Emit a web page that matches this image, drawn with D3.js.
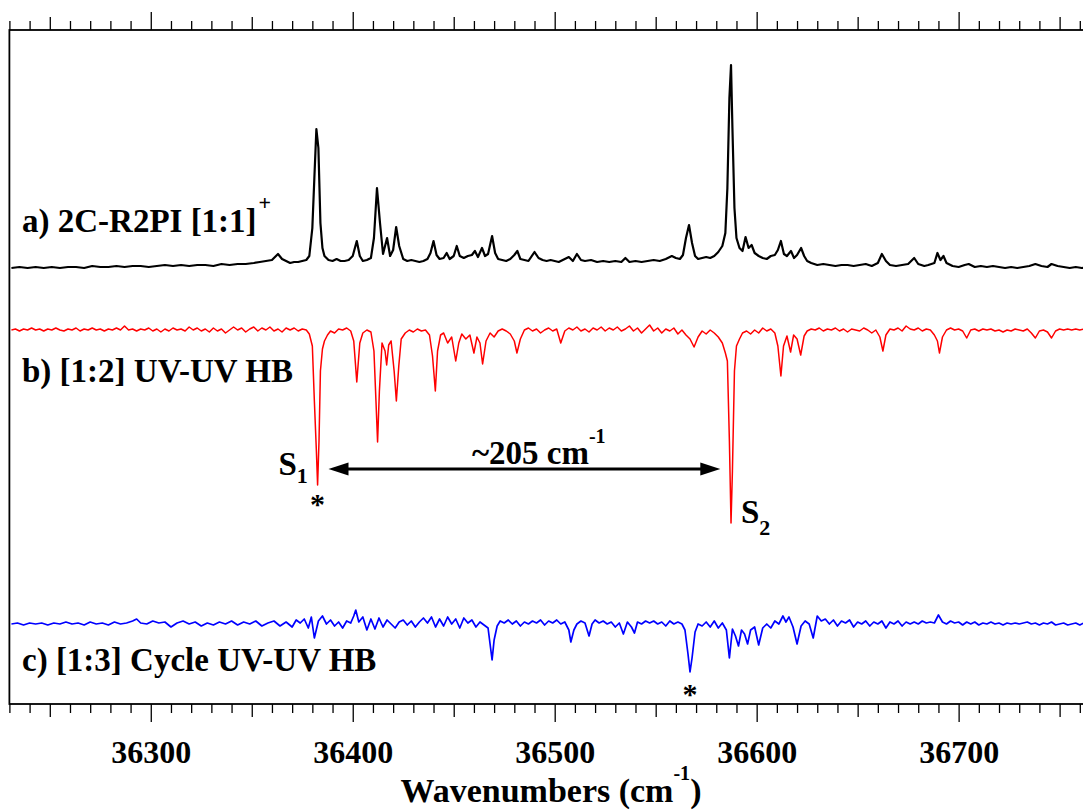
<!DOCTYPE html>
<html>
<head>
<meta charset="utf-8">
<title>UV-UV hole burning spectra</title>
<script src="https://cdn.jsdelivr.net/npm/d3@7/dist/d3.min.js"></script>
<style>
body { margin: 0; background: #fff; }
svg { display: block; }
text { font-family: "Liberation Serif", "Times New Roman", serif; font-weight: bold; fill: #000; }
.trace { fill: none; stroke-linejoin: round; }
.axis .tick line { stroke: #000; stroke-width: 1.3px; }
</style>
</head>
<body>
<svg width="1083" height="812"></svg>
<script>
// wavenumber (cm-1), signal (a.u.) relative to each trace's baseline
var r2pi = [
  [36231,0],[36235,1],[36239,0],[36243,1],[36247,0],[36251,1],[36255,0],[36259,1],[36263,1],[36267,0],
  [36271,2],[36275,1],[36279,1],[36283,2],[36287,1],[36291,2],[36295,2],[36299,1],[36303,2],[36307,3],
  [36311,2],[36315,3],[36319,2],[36323,3],[36327,3],[36331,2],[36335,4],[36339,3],[36343,4],[36347,4],
  [36351,5],[36354,6],[36357,7],[36360,8],[36363,14],[36365,9],[36367,7],[36369,5],[36371,6],[36373,6],
  [36375,7],[36377,8],[36378.5,12],[36380,40],[36381,90],[36382,139],[36383,120],[36384,45],[36385,20],[36386,12],
  [36388,8],[36390,7],[36392,9],[36394,7],[36396,7],[36398,8],[36400,12],[36402,27],[36403.5,12],[36405,7],
  [36407,8],[36409,10],[36410.5,30],[36412,80],[36413.5,45],[36415,14],[36417,30],[36418.5,12],[36420,18],[36421.5,41],
  [36423,22],[36425,9],[36427,7],[36429,8],[36431,7],[36433,6],[36435,7],[36437,9],[36438.5,15],[36440,27],
  [36441.5,13],[36443,9],[36445,10],[36446.5,15],[36448,9],[36450,12],[36451.5,22],[36453,12],[36455,10],[36457,12],
  [36459,13],[36460.5,17],[36462,11],[36464,20],[36465.5,12],[36467,14],[36469,32],[36470.5,15],[36472,9],[36474,8],
  [36476,7],[36478,9],[36480,13],[36481.5,17],[36483,9],[36485,8],[36487,7],[36490,16],[36492,10],[36494,8],
  [36496,7],[36498,8],[36500,7],[36502,6],[36504,8],[36507,11],[36509,7],[36511,14],[36513,8],[36515,7],
  [36518,8],[36521,6],[36524,7],[36527,6],[36530,7],[36533,6],[36535,10],[36537,6],[36540,7],[36543,6],
  [36546,7],[36549,8],[36552,7],[36555,9],[36558,12],[36560,10],[36562,9],[36563.5,13],[36565,30],[36566.5,43],
  [36568,25],[36569.5,12],[36571,9],[36573,10],[36575,11],[36577,10],[36579,12],[36581,16],[36583,22],[36584.5,35],
  [36585.5,80],[36586.5,170],[36587.3,203],[36588,140],[36589,60],[36590,30],[36591.5,20],[36593,17],[36594.5,31],[36596,20],
  [36597.5,23],[36599,15],[36601,12],[36603,10],[36605,9],[36607,12],[36609,13],[36610.5,18],[36612,27],[36613.5,14],
  [36615,12],[36617,17],[36618.5,10],[36620,13],[36622,20],[36623.5,12],[36625,7],[36627,5],[36630,3],[36633,4],
  [36636,3],[36639,2],[36642,3],[36645,3],[36648,2],[36651,3],[36654,4],[36657,2],[36660,5],[36662,14],
  [36664,7],[36666,3],[36669,2],[36672,3],[36675,4],[36678,10],[36680,4],[36683,2],[36685,3],[36688,5],
  [36689.5,15],[36691,8],[36692.5,12],[36694,5],[36697,2],[36700,1],[36703,3],[36705,4],[36708,1],[36711,2],
  [36714,1],[36717,2],[36720,1],[36723,0],[36726,1],[36729,0],[36732,1],[36735,2],[36738,4],[36741,2],
  [36744,1],[36746,4],[36749,2],[36752,1],[36755,0],[36758,1],[36761,0],[36764,1],[36767,0],[36770,0]
];

var hb12 = [
  [36231,1],[36233,2],[36235,0],[36237,2],[36239,1],[36241,3],[36243,1],[36245,2],[36247,0],[36249,2],
  [36251,1],[36253,3],[36255,1],[36257,0],[36259,2],[36261,1],[36263,3],[36265,0],[36267,2],[36269,1],
  [36271,3],[36273,1],[36275,2],[36277,0],[36279,2],[36281,1],[36283,3],[36285,1],[36287,5],[36289,1],
  [36291,2],[36293,0],[36295,2],[36297,1],[36299,3],[36301,0],[36303,2],[36305,-1],[36307,2],[36309,0],
  [36311,3],[36313,1],[36315,2],[36317,0],[36319,4],[36321,1],[36323,3],[36325,0],[36327,2],[36329,-1],
  [36331,3],[36333,0],[36335,2],[36337,-2],[36339,1],[36341,4],[36343,1],[36345,3],[36347,-1],[36349,2],
  [36351,4],[36353,0],[36355,3],[36357,1],[36359,4],[36361,0],[36363,2],[36365,-1],[36367,3],[36369,1],
  [36371,3],[36373,0],[36375,2],[36377,1],[36378.5,-3],[36380,-15],[36381,-70],[36382,-120],[36382.6,-154],[36383.3,-110],
  [36384,-40],[36385,-18],[36386,-10],[36387.5,-4],[36389,0],[36391,-2],[36393,2],[36395,1],[36397,3],[36399,0],
  [36400.5,-10],[36402,-51],[36403.5,-12],[36405,-2],[36407,1],[36409,-1],[36410.5,-20],[36411.5,-70],[36412.3,-111],[36413.2,-60],
  [36414.5,-12],[36416,-20],[36416.8,-34],[36417.8,-14],[36419,-10],[36420.5,-40],[36421.6,-70],[36422.8,-35],[36424,-8],[36426,-2],
  [36428,1],[36430,-1],[36432,2],[36434,0],[36436,1],[36438,-4],[36439.5,-25],[36440.9,-60],[36442,-20],[36443.5,-4],
  [36445,-2],[36447,-12],[36449,-6],[36451,-30],[36452.5,-12],[36454,-3],[36456,-8],[36458,-4],[36460,-22],[36461.5,-6],
  [36463,-12],[36464.3,-33],[36466,-10],[36468,-2],[36470,-6],[36472,0],[36474,2],[36476,0],[36478,-3],[36480,-10],
  [36481.3,-22],[36483,-8],[36485,1],[36487,3],[36489,0],[36491,2],[36493,-2],[36495,1],[36497,3],[36499,0],
  [36501,2],[36503,-12],[36505,0],[36507,3],[36509,1],[36511,4],[36513,0],[36515,2],[36517,-1],[36519,3],
  [36521,1],[36523,4],[36525,0],[36527,3],[36529,1],[36531,4],[36533,0],[36535,2],[36537,5],[36539,0],
  [36541,3],[36543,-2],[36545,2],[36547,6],[36549,0],[36551,3],[36553,-2],[36555,2],[36557,0],[36559,3],
  [36561,-3],[36563,1],[36565,-4],[36567,-8],[36569,-16],[36571,-6],[36573,0],[36575,-3],[36577,1],[36579,-2],
  [36581,-6],[36583,-12],[36584.5,-22],[36585.5,-30],[36586.5,-110],[36587.3,-192],[36588,-140],[36589,-40],[36590,-15],[36591.5,-8],
  [36593,-2],[36595,0],[36597,-3],[36599,1],[36601,-2],[36603,3],[36605,0],[36607,2],[36609,-2],[36610.5,-15],
  [36612,-45],[36613.3,-15],[36615,-5],[36616.8,-21],[36618.3,-4],[36620,-8],[36621.8,-24],[36623.5,-5],[36625,0],[36627,2],
  [36629,1],[36631,3],[36633,0],[36635,2],[36637,1],[36639,3],[36641,0],[36643,2],[36645,-1],[36647,2],
  [36649,1],[36651,0],[36653,3],[36655,1],[36657,-2],[36659,1],[36661,-6],[36662.5,-20],[36664,-4],[36666,2],
  [36668,1],[36670,3],[36672,0],[36674,5],[36676,2],[36678,1],[36680,3],[36682,0],[36684,2],[36686,1],
  [36688,-4],[36689.5,-10],[36690.5,-22],[36692,-6],[36694,1],[36696,3],[36698,1],[36700,2],[36702,0],[36704,-7],
  [36706,1],[36708,2],[36710,0],[36712,2],[36714,1],[36716,2],[36718,0],[36720,1],[36722,-1],[36724,1],
  [36726,0],[36728,2],[36730,1],[36732,0],[36734,2],[36736,-2],[36738,-7],[36740,0],[36742,1],[36744,-1],
  [36746,-7],[36748,0],[36750,2],[36752,1],[36754,2],[36756,1],[36758,2],[36760,1],[36762,2],[36764,1],
  [36766,2],[36768,2],[36770,1]
];

var hb13 = [
  [36231,0],[36234,1],[36237,-1],[36240,1],[36243,0],[36246,1],[36249,-1],[36252,1],[36255,0],[36258,2],
  [36261,0],[36264,1],[36267,-1],[36270,2],[36273,0],[36276,1],[36279,-1],[36282,2],[36285,0],[36288,1],
  [36291,3],[36293,5],[36295,1],[36298,0],[36301,3],[36304,1],[36307,2],[36310,-3],[36313,1],[36316,3],
  [36319,0],[36322,2],[36325,-2],[36328,1],[36331,-1],[36334,2],[36337,0],[36340,3],[36343,-1],[36346,2],
  [36349,0],[36352,3],[36355,-2],[36358,1],[36361,3],[36364,-2],[36367,2],[36370,-3],[36372,4],[36374,1],
  [36376,5],[36378,-4],[36379.5,7],[36381,-14],[36383,3],[36385,8],[36387,0],[36389,4],[36391,-2],[36393,2],
  [36395,-4],[36397,3],[36399,1],[36400.5,8],[36401.5,14],[36403,2],[36405,7],[36407,-6],[36409,5],[36411,-5],
  [36413,6],[36415,-3],[36417,4],[36419,0],[36421,-4],[36423,2],[36425,4],[36427,-1],[36429,3],[36431,-3],
  [36433,2],[36435,6],[36437,1],[36439,7],[36441,-3],[36443,5],[36445,-2],[36447,7],[36449,0],[36451,5],
  [36453,-4],[36455,6],[36457,1],[36459,4],[36461,-3],[36463,2],[36465,-1],[36467,-4],[36468,-20],[36469,-36],
  [36470,-16],[36471.5,-2],[36473,3],[36475,1],[36477,4],[36479,0],[36481,3],[36483,-2],[36485,2],[36487,0],
  [36489,3],[36491,1],[36493,4],[36495,-1],[36497,3],[36499,1],[36501,4],[36503,0],[36505,2],[36507,-6],
  [36508,-18],[36509.5,-6],[36511,0],[36513,3],[36515,1],[36517,-12],[36518.5,0],[36520,4],[36522,1],[36524,3],
  [36526,0],[36528,2],[36530,-3],[36532,1],[36534,-10],[36536,2],[36538,-3],[36539.5,-9],[36541,2],[36543,0],
  [36545,3],[36547,1],[36549,3],[36551,0],[36553,2],[36555,-2],[36557,3],[36559,0],[36561,2],[36563,0],
  [36564.5,-6],[36566,-30],[36567,-48],[36568,-34],[36569.5,-8],[36571,0],[36573,-2],[36575,2],[36577,-3],[36579,3],
  [36581,-4],[36583,1],[36585,-6],[36586.5,-34],[36588,-5],[36589.5,-12],[36591,-22],[36592.5,-6],[36594,-10],[36595.5,-20],
  [36597,-6],[36599,-3],[36601,-21],[36603,-4],[36605,0],[36607,-4],[36609,3],[36611,0],[36613,8],[36614.5,2],
  [36616,7],[36618,-3],[36620,-20],[36622,-2],[36624,3],[36626,0],[36628,-14],[36630,8],[36632,3],[36634,5],
  [36636,0],[36638,4],[36640,-2],[36642,3],[36644,1],[36646,4],[36648,-3],[36650,2],[36652,0],[36654,3],
  [36656,-2],[36658,2],[36660,0],[36662,3],[36664,-4],[36666,2],[36668,0],[36670,3],[36672,-2],[36674,2],
  [36676,0],[36678,2],[36680,0],[36682,3],[36684,1],[36686,2],[36688,1],[36690,9],[36692,2],[36694,0],
  [36696,3],[36698,1],[36700,2],[36702,-1],[36704,2],[36706,0],[36708,2],[36710,-1],[36712,1],[36714,0],
  [36716,2],[36718,0],[36720,1],[36722,-1],[36724,1],[36726,0],[36728,1],[36730,0],[36732,1],[36734,2],
  [36736,0],[36738,1],[36740,-1],[36742,1],[36744,0],[36746,2],[36748,-1],[36750,0],[36752,1],[36754,-1],
  [36756,0],[36758,1],[36760,-1],[36762,1],[36764,0],[36766,1],[36768,0],[36770,2]
];

var xTicks = [36300, 36400, 36500, 36600, 36700];

var svg = d3.select("svg"),
    margin = {top: 30, left: 9.4},
    width = 1090.6,
    height = 674,
    g = svg.append("g").attr("transform", "translate(" + margin.left + "," + margin.top + ")");

var x = d3.scaleLinear().domain([36230, 36770]).range([0, width]);
// one intensity unit per pixel, each trace sits on its own baseline
var y = d3.scaleLinear().domain([0, 674]).range([height, 0]);
var base = {a: 436, b: 373, c: 80};

function line(off) {
  return d3.line()
    .x(function(d) { return x(d[0]); })
    .y(function(d) { return y(off + d[1]); });
}

function tickLen(d) { return d % 100 === 0 ? 18 : (d % 50 === 0 ? 13 : 9); }
var allTicks = d3.range(36230, 36771, 10);

var gx = g.append("g")
    .attr("class", "axis")
    .attr("transform", "translate(0," + height + ")")
    .call(d3.axisBottom(x).tickValues(allTicks).tickSizeOuter(0)
      .tickFormat(function(d) { return xTicks.indexOf(d) >= 0 ? d : ""; }));
gx.select(".domain").remove();
gx.selectAll(".tick line").attr("y2", tickLen);
gx.selectAll(".tick text")
    .attr("y", 59).attr("dy", null)
    .style("font-size", "32px")
    .style("font-family", "'Liberation Serif', 'Times New Roman', serif")
    .style("font-weight", "bold");

var gt = g.append("g")
    .attr("class", "axis")
    .call(d3.axisTop(x).tickValues(allTicks).tickSizeOuter(0).tickFormat(""));
gt.select(".domain").remove();
gt.selectAll(".tick line").attr("y2", function(d) { return -tickLen(d); });

g.append("rect")
    .attr("width", width).attr("height", height)
    .attr("fill", "none").attr("stroke", "#000").attr("stroke-width", 1.8);

g.append("path").datum(r2pi).attr("class", "trace")
    .attr("stroke", "#000").attr("stroke-width", 2.2).attr("d", line(base.a));
g.append("path").datum(hb12).attr("class", "trace")
    .attr("stroke", "#ff0000").attr("stroke-width", 1.5).attr("d", line(base.b));
g.append("path").datum(hb13).attr("class", "trace")
    .attr("stroke", "#0000ff").attr("stroke-width", 1.7).attr("d", line(base.c));

// labels
function label(xp, yp, txt, sup, supDy) {
  var t = g.append("text").attr("x", xp).attr("y", yp).style("font-size", "33px").text(txt);
  if (sup) t.append("tspan").attr("dx", 2).attr("dy", supDy).style("font-size", "22px").text(sup);
  return t;
}
label(12.6, 202, "a) 2C-R2PI [1:1]", "+", -22);
label(12.6, 352, "b) [1:2] UV-UV HB");
label(12.6, 641, "c) [1:3] Cycle UV-UV HB");

// S1 / S2 markers
var s1 = g.append("text").attr("x", x(36382.5) - 39).attr("y", y(base.b - 144)).style("font-size", "33px").text("S");
s1.append("tspan").attr("dy", 8).style("font-size", "22px").text("1");
var s2 = g.append("text").attr("x", x(36587.3) + 10).attr("y", y(base.b - 192)).style("font-size", "33px").text("S");
s2.append("tspan").attr("dy", 12).style("font-size", "22px").text("2");

g.append("text").attr("x", x(36382.5)).attr("y", y(base.b - 183))
    .attr("text-anchor", "middle").style("font-size", "30px").text("*");
g.append("text").attr("x", x(36567)).attr("y", y(base.c - 80))
    .attr("text-anchor", "middle").style("font-size", "30px").text("*");

// ~205 cm-1 double arrow
var ay = y(base.b - 138), ax1 = x(36388), ax2 = x(36582);
g.append("line").attr("x1", ax1 + 12).attr("x2", ax2 - 12).attr("y1", ay).attr("y2", ay)
    .attr("stroke", "#000").attr("stroke-width", 3);
g.append("path").attr("d", "M" + ax1 + "," + ay + "l20,-6.5v13z").attr("fill", "#000");
g.append("path").attr("d", "M" + ax2 + "," + ay + "l-20,-6.5v13z").attr("fill", "#000");
var lab = g.append("text").attr("x", x(36459)).attr("y", ay - 5).style("font-size", "33px").text("~205 cm");
lab.append("tspan").attr("dy", -21).style("font-size", "20px").text("-1");

// axis title
var ttl = svg.append("text").attr("x", 551).attr("y", 802).attr("text-anchor", "middle")
    .style("font-size", "34px").text("Wavenumbers (cm");
ttl.append("tspan").attr("dy", -22).style("font-size", "20px").text("-1");
ttl.append("tspan").attr("dy", 22).text(")");
</script>
</body>
</html>
